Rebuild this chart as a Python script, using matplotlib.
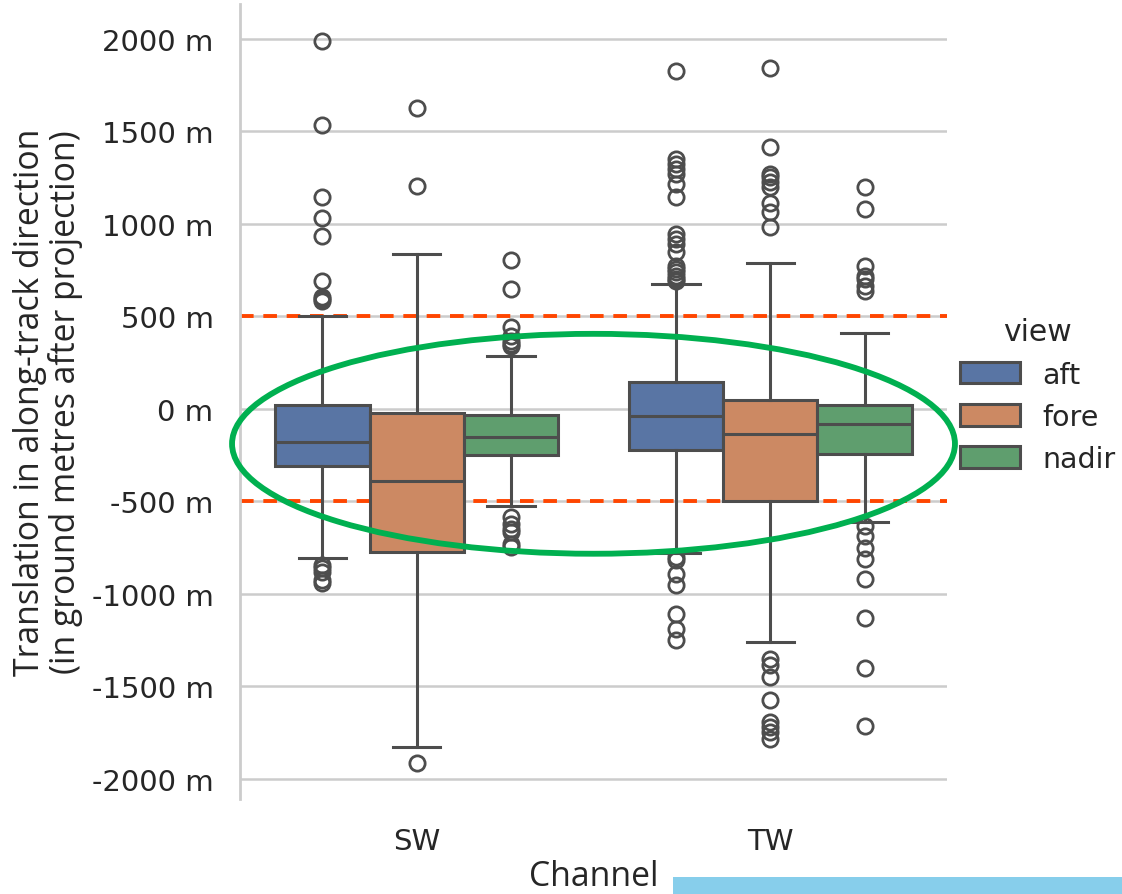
import matplotlib
matplotlib.use("Agg")
import matplotlib.pyplot as plt
from matplotlib.patches import Ellipse, Patch, Rectangle
from matplotlib.ticker import FuncFormatter, MultipleLocator

# Along-track translation per channel (SW, TW) and view (aft, fore, nadir)
channels = ["SW", "TW"]
views = ["aft", "fore", "nadir"]
view_colors = ["#5975a4", "#cc8963", "#5f9e6e"]

# Box summaries, ordered aft / fore / nadir
q1_sw = [-308, -774, -248]
med_sw = [-177, -392, -153]
q3_sw = [22, -23, -32]
whislo_sw = [-805, -1827, -526]
whishi_sw = [504, 835, 288]

q1_tw = [-225, -500, -243]
med_tw = [-40, -135, -81]
q3_tw = [144, 45, 18]
whislo_tw = [-778, -1260, -612]
whishi_tw = [675, 788, 409]

# Outliers beyond the whiskers
fliers_sw_aft = [1985, 1535, 1143, 1030, 936, 693, 606, 594, 585,
                 -846, -860, -882, -927, -940]
fliers_sw_fore = [1625, 1202, -1913]
fliers_sw_nadir = [806, 648, 441, 396, 369, 351, 342,
                   -585, -621, -648, -666, -729, -747]
fliers_tw_aft = [1827, 1350, 1323, 1296, 1269, 1215, 1143, 945, 918, 891,
                 846, 774, 756, 738, 720, 702, 693,
                 -801, -819, -891, -954, -1107, -1188, -1251]
fliers_tw_fore = [1840, 1416, 1269, 1251, 1224, 1197, 1112, 1062, 981,
                  -1350, -1386, -1449, -1575, -1692, -1719, -1746, -1782]
fliers_tw_nadir = [1197, 1080, 774, 720, 702, 666, 635,
                   -635, -688, -751, -814, -922, -1129, -1400, -1716]

tolerance = 500  # +/- band in metres

summaries = {
    "SW": (q1_sw, med_sw, q3_sw, whislo_sw, whishi_sw,
           [fliers_sw_aft, fliers_sw_fore, fliers_sw_nadir]),
    "TW": (q1_tw, med_tw, q3_tw, whislo_tw, whishi_tw,
           [fliers_tw_aft, fliers_tw_fore, fliers_tw_nadir]),
}

fig = plt.figure(figsize=(11.22, 8.95), dpi=100)
ax = fig.add_axes([240 / 1122, 1 - 800 / 895, 707 / 1122, 795 / 895])

edge = "#4d4d4d"
text_color = "#262626"
box_w = 0.8 / len(views)
for ci, ch in enumerate(channels):
    q1, med, q3, lo, hi, fl = summaries[ch]
    for vi, view in enumerate(views):
        pos = ci + (vi - 1) * box_w
        stats = [dict(q1=q1[vi], med=med[vi], q3=q3[vi], whislo=lo[vi],
                      whishi=hi[vi], fliers=fl[vi], label=view)]
        ax.bxp(stats, positions=[pos], widths=[box_w], patch_artist=True,
               showfliers=True, manage_ticks=False,
               boxprops=dict(facecolor=view_colors[vi], edgecolor=edge, linewidth=2.2),
               medianprops=dict(color=edge, linewidth=2.2),
               whiskerprops=dict(color=edge, linewidth=2.2),
               capprops=dict(color=edge, linewidth=2.2),
               capwidths=[box_w / 2],
               flierprops=dict(marker="o", markersize=11, markerfacecolor="none",
                               markeredgecolor=edge, markeredgewidth=2.0),
               zorder=3)

for level in (tolerance, -tolerance):
    ax.axhline(level, color="#ff4500", linestyle=(0, (3.5, 2.5)),
               linewidth=2.8, zorder=2)

ax.add_patch(Ellipse((0.5, -189), width=2.045, height=1188, fill=False,
                     edgecolor="#00b050", linewidth=4.2, zorder=5, clip_on=False))

ax.set_xlim(-0.5, 1.5)
ax.set_ylim(-2108, 2187)
ax.set_xticks(range(len(channels)))
ax.set_xticklabels(channels)
ax.yaxis.set_major_locator(MultipleLocator(500))
ax.yaxis.set_major_formatter(FuncFormatter(lambda v, _: f"{int(v)} m"))

ax.grid(axis="y", color="#cccccc", linewidth=1.8, zorder=0)
ax.grid(axis="x", visible=False)
ax.set_axisbelow(True)
for side in ["top", "right", "bottom"]:
    ax.spines[side].set_visible(False)
ax.spines["left"].set_color("#cccccc")
ax.spines["left"].set_linewidth(2)

ax.tick_params(axis="both", length=0, labelsize=21, labelcolor=text_color)
ax.tick_params(axis="y", pad=19)
ax.tick_params(axis="x", pad=20)

ax.set_ylabel("Translation in along-track direction\n(in ground metres after projection)",
              family="Open Sans", fontsize=24.3, color=text_color, labelpad=6,
              linespacing=1.05)
ax.set_xlabel("Channel", family="Open Sans", fontsize=24.3, color=text_color,
              labelpad=3)

handles = [Patch(facecolor=c, edgecolor=edge, linewidth=2.2, label=v)
           for v, c in zip(views, view_colors)]
leg = ax.legend(handles=handles, title="view", loc="center left",
                bbox_to_anchor=(1.0, 0.508), frameon=False, fontsize=20.5,
                title_fontsize=21.5, handlelength=2.1, handleheight=0.78,
                labelspacing=0.5, handletextpad=0.8, borderaxespad=0.05)
for t in leg.get_texts():
    t.set_color(text_color)
leg.get_title().set_color(text_color)

fig.patches.append(Rectangle((673 / 1122, 0), 449 / 1122, 17 / 895,
                             transform=fig.transFigure, facecolor="#87ceeb",
                             edgecolor="none", zorder=10))

fig.savefig("out.png", dpi=100)
